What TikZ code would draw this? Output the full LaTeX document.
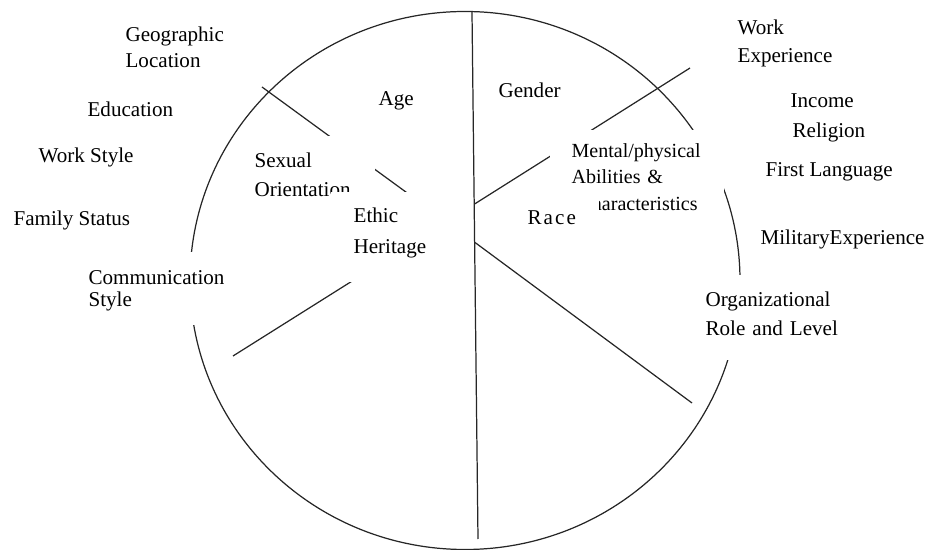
\documentclass[tikz,border=0pt]{standalone}
\usepackage{fontspec}
\setmainfont{Liberation Serif}
\begin{document}
\begin{tikzpicture}[
    x=0.02cm, y=-0.02cm,
    line width=0.7pt,
    lbl/.style={font=\fontsize{12}{15.4}\selectfont,align=left,anchor=base west,inner sep=0pt},
    tbox/.style={lbl,fill=white},
    ring/.style={draw=black!85},
    spoke/.style={draw=black!85}
]
\useasboundingbox (0,0) rectangle (927,550);

\coordinate (top) at (472,12);
\coordinate (bot) at (478,539);
\coordinate (hubA) at (473,205);
\coordinate (hubB) at (473,241);
\coordinate (ne) at (690,68);
\coordinate (se) at (692,403);
\coordinate (nw) at (262,87);
\coordinate (sw) at (233,356);

\draw[ring] (465,280.5) ellipse [x radius=275, y radius=269];

\draw[spoke] (hubA) -- (ne);
\draw[spoke] (hubB) -- (se);
\draw[spoke] (nw) -- (hubB);
\draw[spoke] (sw) -- (hubA);

% text boxes, white, drawn over the lines
\node[tbox,inner xsep=5.1pt,text width=63.7pt,text height=18.2pt,text depth=21.1pt,
      font=\fontsize{12}{16.5}\selectfont] (sexual) at (245,168) {Sexual\\Orientation};
\node[tbox,inner xsep=13.1pt,text width=55.8pt,text height=17.6pt,text depth=33.6pt,
      font=\fontsize{12}{17.1}\selectfont] (ethic) at (330,223) {Ethic\\Heritage};
\node[tbox,inner xsep=12.5pt,text width=74.5pt,text height=15.9pt,text depth=32.4pt,
      font=\fontsize{11.4}{14.8}\selectfont] (mental) at (549,158)
      {Mental/physical\\Abilities \&\\\hspace*{4pt}Characteristics};
\node[tbox,inner xsep=8.5pt,text width=32.4pt,text height=18.2pt,text depth=8.5pt,
      font=\fontsize{12}{15.4}\selectfont\addfontfeatures{LetterSpace=10}] (race) at (512,225) {Race};
\node[tbox,inner xsep=4.55pt,text width=79.7pt,text height=18.8pt,text depth=22.8pt,
      font=\fontsize{12}{12.5}\selectfont] (comm) at (80,285) {Communication\\Style};
\node[tbox,inner xsep=5.7pt,text width=76.8pt,text height=18.2pt,text depth=30.2pt,
      font=\fontsize{12}{16.5}\selectfont] (orgrole) at (695,307) {Organizational\\Role and Level};

\draw[spoke] (top) -- (bot);

\node[lbl,text width=70pt,font=\fontsize{12}{14.8}\selectfont] (geo) at (125,42) {Geographic\\Location};
\node[lbl] (edu) at (87,117) {Education};
\node[lbl] (wstyle) at (38,163) {Work Style};
\node[lbl] (family) at (13,226) {Family Status};
\node[lbl] (age) at (378,106) {Age};
\node[lbl] (gender) at (498,98) {Gender};
\node[lbl,text width=70pt] (workexp) at (737,35) {Work\\Experience};
\node[lbl] (income) at (790,108) {Income};
\node[lbl] (religion) at (792,138) {Religion};
\node[lbl] (firstlang) at (765,177) {First Language};
\node[lbl] (military) at (760,245) {MilitaryExperience};

\end{tikzpicture}
\end{document}
